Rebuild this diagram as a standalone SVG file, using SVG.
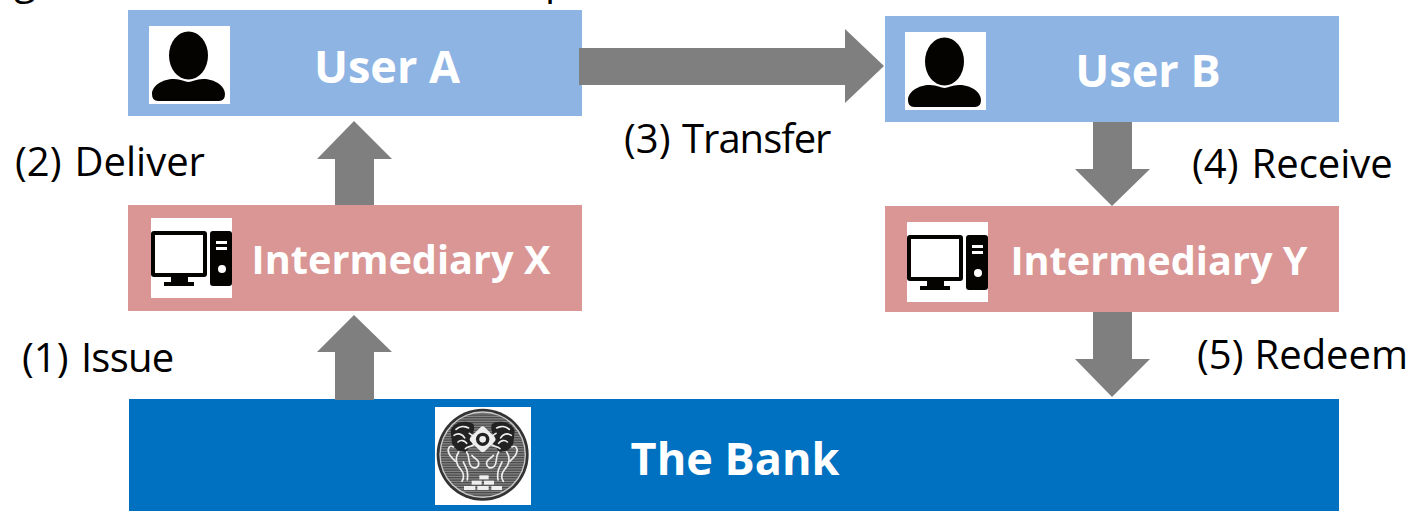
<svg xmlns="http://www.w3.org/2000/svg" width="1411" height="511" viewBox="0 0 1411 511">
<style>
text{font-family:"Open Sans","Noto Sans","Liberation Sans",sans-serif}
.n{font-weight:700;fill:#fff;text-anchor:middle}
.l{font-size:40px;fill:#000}
.a{fill:#7f7f7f}
.k{fill:#050300}
.w{fill:#fff}
.s{fill:none;stroke:#eee;stroke-width:5;stroke-linecap:round}
.d{fill:#222}
</style>
<defs>
<pattern id="hatch" width="4" height="5" patternUnits="userSpaceOnUse"><rect width="4" height="5" fill="#8a8a8a"/><rect width="4" height="2.5" fill="#444"/></pattern>
<g id="person"><rect class="w" width="81" height="78"/><ellipse class="k" cx="39.5" cy="29.5" rx="19.5" ry="24"/><path class="k" d="M3 68C3 60 13 53 25 53C32 53 36 56 39.500 56C43 56 47 53 54 53C66 53 76 60 76 68Q76 75 70 75H9Q3 75 3 68Z"/></g>
<g id="pc"><rect class="w" width="81" height="80"/><rect class="k" x="0" y="13" width="56" height="46" rx="3"/><rect class="w" x="4" y="17" width="48" height="38"/><path class="k" d="M20 59H37V64H43V68H13V64H20Z"/><rect class="k" x="59" y="13" width="22" height="55" rx="3"/><rect class="w" x="65" y="23" width="11" height="3"/><rect class="w" x="65" y="29" width="11" height="3"/><circle class="w" cx="71" cy="51" r="4"/></g>
<g id="lion"><path class="d" d="M62 85C70 62 105 52 130 66C136 80 130 96 120 106L128 122L108 150L82 145L66 125Z"/><path class="s" d="M78 82C88 72 104 72 116 78M72 100C84 92 98 96 104 108M84 120C92 112 104 116 110 124M118 94L136 106"/><path class="s" d="M70 135C58 128 52 140 56 152C60 166 70 170 76 178"/><path class="s" d="M86 150C74 168 78 188 92 202C100 212 104 226 96 238M110 150C122 168 112 182 124 194C134 202 148 196 146 182C144 170 130 168 126 160M100 180C108 196 116 208 112 234M132 128C122 136 112 132 106 140"/></g>
</defs>
<text class="l" x="14" y="-6">g</text>
<text class="l" x="545" y="-6">p</text>
<g id="user-a"><rect x="128" y="10" width="454" height="106" fill="#8eb4e3"/><use href="#person" x="149" y="26"/><text class="n" x="387" y="83" font-size="45">User A</text></g>
<g id="user-b"><rect x="885" y="16" width="454" height="106" fill="#8eb4e3"/><use href="#person" x="905" y="32"/><text class="n" x="1148" y="87" font-size="45">User B</text></g>
<g id="intermediary-x"><rect x="128" y="205" width="454" height="106" fill="#d99694"/><use href="#pc" x="151" y="218"/><text class="n" x="401" y="274" font-size="39.700">Intermediary X</text></g>
<g id="intermediary-y"><rect x="885" y="206" width="454" height="106" fill="#d99694"/><use href="#pc" x="907" y="222"/><text class="n" x="1159" y="275" font-size="39.700">Intermediary Y</text></g>
<g id="bank"><rect x="129" y="399" width="1210" height="112" fill="#0070c0"/><rect class="w" x="435" y="407" width="96" height="98"/>
<g transform="translate(430 402) scale(.3333)">
<circle cx="158" cy="158" r="138" fill="#333"/><circle cx="158" cy="158" r="130" fill="#ccc"/><circle cx="158" cy="158" r="126" fill="url(#hatch)"/>
<use href="#lion"/><use href="#lion" transform="translate(316 0) scale(-1 1)"/>
<rect x="128" y="82" width="60" height="60" rx="10" fill="#eee" transform="rotate(45 158 112)"/><circle cx="158" cy="112" r="20" fill="#222"/><circle cx="158" cy="112" r="10" fill="#eee"/>
<g fill="#eee"><rect x="148" y="220" width="28" height="12"/><rect x="125" y="236" width="30" height="12"/><rect x="162" y="236" width="30" height="12"/><rect x="102" y="252" width="34" height="12"/><rect x="142" y="252" width="34" height="12"/><rect x="184" y="252" width="32" height="12"/></g>
</g>
<text class="n" x="735" y="475" font-size="45">The Bank</text></g>
<g id="connectors">
<path class="a" d="M579 48H845V29L884 66L845 103V85H579Z"/>
<path class="a" d="M335 205V159H317L354 121L392 159H374V205Z"/>
<path class="a" d="M335 400V352H317L354 315L392 352H374V400Z"/>
<path class="a" d="M1093 122H1132V169H1150L1112 206L1075 169H1093Z"/>
<path class="a" d="M1093 312H1132V359H1150L1112 397L1075 359H1093Z"/>
</g>
<g id="labels">
<text class="l" x="15" y="176">(2) <tspan x="74.500">Deliver</tspan></text>
<text class="l" x="22" y="372">(1) <tspan x="81" letter-spacing="-.8">Issue</tspan></text>
<text class="l" x="624" y="153">(3) <tspan x="682" letter-spacing="-1">Transfer</tspan></text>
<text class="l" x="1192" y="178">(4) <tspan x="1251.500">Receive</tspan></text>
<text class="l" x="1197" y="369">(5) <tspan x="1254.500">Redeem</tspan></text>
</g>
</svg>
